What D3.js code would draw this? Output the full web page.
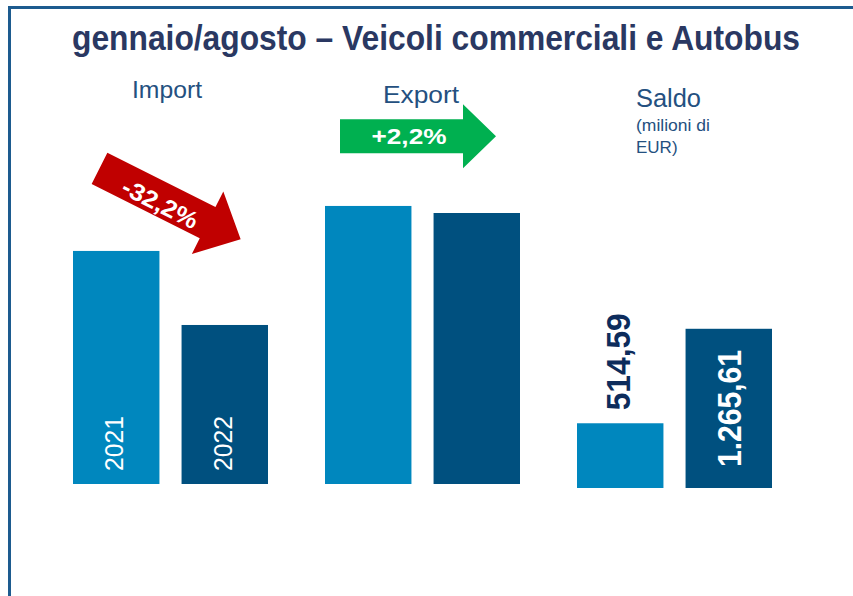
<!DOCTYPE html>
<html>
<head>
<meta charset="utf-8">
<script src="https://cdn.jsdelivr.net/npm/d3@7"></script>
<style>
  body { margin: 0; background: #fff; }
  svg { display: block; font-family: "Liberation Sans", Arial, sans-serif; }
</style>
</head>
<body>
<div id="vis"></div>
<script>
// data (milioni di EUR)
const groups = ['Import', 'Export', 'Saldo'];
const years = ['2021', '2022'];
const importValues = [2150, 1467];
const exportValues = [2565, 2500];
const saldoValues = [514.59, 1265.61];
const saldoLabels = ['514,59', '1.265,61'];
const importChange = '-32,2%';
const exportChange = '+2,2%';

const W = 853, H = 596;
const colors = ['#0087be', '#00507f'];

const svg = d3.select('#vis').append('svg')
  .attr('width', W).attr('height', H);

// frame lines
svg.append('line').attr('x1', 8).attr('x2', W).attr('y1', 7.5).attr('y2', 7.5)
  .attr('stroke', '#1d5b8f').attr('stroke-width', 3);
svg.append('line').attr('x1', 9.5).attr('x2', 9.5).attr('y1', 6).attr('y2', H)
  .attr('stroke', '#1d5b8f').attr('stroke-width', 3);

// title
svg.append('text')
  .attr('x', 436).attr('y', 50)
  .attr('text-anchor', 'middle')
  .attr('font-size', 35).attr('font-weight', 'bold')
  .attr('fill', '#2a3862')
  .attr('textLength', 728).attr('lengthAdjust', 'spacingAndGlyphs')
  .text('gennaio/agosto – Veicoli commerciali e Autobus');

// scales
const x = d3.scaleBand().domain(groups).range([73, 772]).paddingInner(57 / 252).paddingOuter(0);
const xi = d3.scaleBand().domain(years).range([0, x.bandwidth()]).paddingInner(22 / 108);
const yMain = d3.scaleLinear().domain([0, 3000]).range([484, 484 - 325.2]);
const ySaldo = d3.scaleLinear().domain([0, 3000]).range([488, 488 - 377.4]);

const rows = [];
years.forEach((yr, i) => {
  rows.push({ g: 'Import', yr, v: importValues[i], y: yMain, i });
  rows.push({ g: 'Export', yr, v: exportValues[i], y: yMain, i });
  rows.push({ g: 'Saldo', yr, v: saldoValues[i], y: ySaldo, i });
});

svg.append('g').selectAll('rect').data(rows).join('rect')
  .attr('x', d => x(d.g) + xi(d.yr))
  .attr('width', xi.bandwidth())
  .attr('y', d => d.y(d.v))
  .attr('height', d => d.y(0) - d.y(d.v))
  .attr('fill', d => colors[d.i]);

// year labels inside Import bars
svg.append('g').selectAll('text').data(rows.filter(d => d.g === 'Import')).join('text')
  .attr('transform', d => `translate(${x(d.g) + xi(d.yr) + xi.bandwidth() / 2 - 2},${d.y(0) - 13}) rotate(-90)`)
  .attr('dy', '0.36em')
  .attr('font-size', 25).attr('fill', '#fff')
  .attr('textLength', 55).attr('lengthAdjust', 'spacingAndGlyphs')
  .text(d => d.yr);

// saldo value labels
const saldoRows = rows.filter(d => d.g === 'Saldo');
svg.append('g').selectAll('text').data(saldoRows).join('text')
  .attr('transform', d => {
    const cx = x(d.g) + xi(d.yr) + xi.bandwidth() / 2 - (d.i === 0 ? 2 : 0);
    const by = d.i === 0 ? d.y(d.v) - 13 : d.y(0) - 21;
    return `translate(${cx},${by}) rotate(-90)`;
  })
  .attr('dy', '0.36em')
  .attr('font-size', 33).attr('font-weight', 'bold')
  .attr('fill', d => d.i === 0 ? '#0d2c5c' : '#fff')
  .attr('textLength', d => d.i === 0 ? 97 : 117).attr('lengthAdjust', 'spacingAndGlyphs')
  .text(d => saldoLabels[d.i]);

// group headings
const labelColor = '#245080';
svg.append('text').attr('x', x('Import') + 94).attr('y', 98)
  .attr('text-anchor', 'middle').attr('font-size', 23).attr('fill', labelColor)
  .attr('textLength', 70).attr('lengthAdjust', 'spacingAndGlyphs').text('Import');
svg.append('text').attr('x', x('Export') + 96).attr('y', 102.5)
  .attr('text-anchor', 'middle').attr('font-size', 24).attr('fill', labelColor)
  .attr('textLength', 76).attr('lengthAdjust', 'spacingAndGlyphs').text('Export');
const saldoHead = svg.append('g').attr('fill', labelColor);
saldoHead.append('text').attr('x', 636).attr('y', 107)
  .attr('font-size', 25).attr('textLength', 65).attr('lengthAdjust', 'spacingAndGlyphs').text('Saldo');
saldoHead.append('text').attr('x', 636).attr('y', 131)
  .attr('font-size', 17).attr('textLength', 74).attr('lengthAdjust', 'spacingAndGlyphs').text('(milioni di');
saldoHead.append('text').attr('x', 636).attr('y', 153)
  .attr('font-size', 17).text('EUR)');

// arrows
function arrowPath(len, bodyHalf, headLen, headHalf) {
  const b = len - headLen;
  return d3.line()([
    [0, -bodyHalf], [b, -bodyHalf], [b, -headHalf], [len, 0],
    [b, headHalf], [b, bodyHalf], [0, bodyHalf]
  ]) + 'Z';
}

// red arrow (import)
const red = svg.append('g').attr('transform', 'translate(99.5,168.3) rotate(26.7)');
red.append('path').attr('d', arrowPath(158, 17.5, 37, 35)).attr('fill', '#c00000');
red.append('text').attr('x', 70).attr('y', 4).attr('dy', '0.36em')
  .attr('text-anchor', 'middle').attr('font-size', 24).attr('font-weight', 'bold')
  .attr('fill', '#fff').attr('textLength', 82).attr('lengthAdjust', 'spacingAndGlyphs')
  .text(importChange);

// green arrow (export)
const green = svg.append('g').attr('transform', 'translate(340,136.3)');
green.append('path').attr('d', arrowPath(156, 17, 33, 32)).attr('fill', '#00b050');
green.append('text').attr('x', 69).attr('y', 0).attr('dy', '0.36em')
  .attr('text-anchor', 'middle').attr('font-size', 22).attr('font-weight', 'bold')
  .attr('fill', '#fff').attr('textLength', 75).attr('lengthAdjust', 'spacingAndGlyphs')
  .text(exportChange);
</script>
</body>
</html>
